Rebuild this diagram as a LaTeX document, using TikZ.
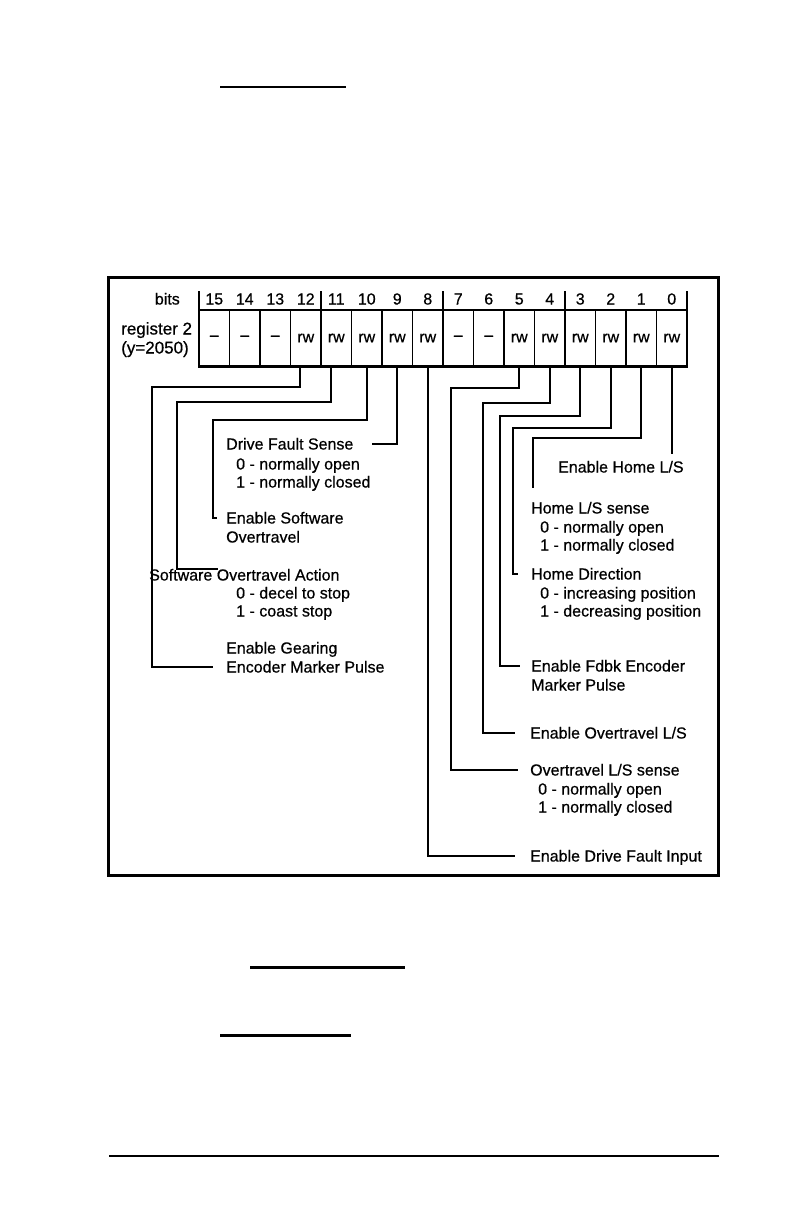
\documentclass[tikz,border=0pt]{standalone}
\usepackage{fontspec}
\setmainfont{Liberation Sans}
\newfontfamily\scanfont{Liberation Sans}[FakeBold=0.6]
\newcommand{\lblfont}{\scanfont\fontsize{16}{19}\selectfont}
\tikzset{
  lbl/.style={anchor=west, inner sep=0pt, text height=11pt, text depth=0pt, font=\lblfont},
  wire/.style={draw, line width=1.8pt},
  cellbox/.style={draw, line width=1.6pt, minimum width=30.5pt, minimum height=56pt, inner sep=0pt, font=\lblfont},
}
\begin{document}
\begin{tikzpicture}[x=1pt, y=-1pt]
\useasboundingbox (0,0) rectangle (793,1225);
% page rules
\draw[line width=2pt] (220,87) -- (346,87);
\draw[line width=3pt] (250,967) -- (405,967);
\draw[line width=3pt] (220,1035) -- (351,1035);
\draw[line width=1.5pt] (109,1156) -- (719,1156);
% frame
\draw[line width=3pt] (108,277) rectangle (718,875);
% register cells
\foreach \b/\v [count=\k from 0] in {15/\textendash, 14/\textendash, 13/\textendash, 12/rw, 11/rw, 10/rw, 9/rw, 8/rw, 7/\textendash, 6/\textendash, 5/rw, 4/rw, 3/rw, 2/rw, 1/rw, 0/rw} {
  \pgfmathsetmacro\cx{214.25+30.5*\k}
  \node[cellbox] (c\b) at (\cx,338) {\v};
  \node[lbl, anchor=center] (n\b) at (\cx,299) {\b};
}
\draw[line width=2.5pt] (c15.south west) -- (c0.south east);
\foreach \tx in {199,321,443,565,687}
  \draw[line width=1.6pt] (\tx,291) -- (\tx,310);
\node[lbl, anchor=east] (bitslbl) at (180,299) {bits};
\node[lbl, font=\scanfont\fontsize{17}{20}\selectfont] (reg) at (121,329) {register 2};
\node[lbl, font=\scanfont\fontsize{17}{20}\selectfont] (regy) at (121,348) {(y=2050)};
% left labels
\node[lbl] (dfs) at (226,444) {Drive Fault Sense};
\node[lbl] (dfs0) at (236,464) {0 - normally open};
\node[lbl] (dfs1) at (236,482) {1 - normally closed};
\node[lbl] (esw) at (226,518) {Enable Software};
\node[lbl] (esw2) at (226,537) {Overtravel};
\node[lbl] (soa) at (149,575) {Software Overtravel Action};
\node[lbl] (soa0) at (236,593) {0 - decel to stop};
\node[lbl] (soa1) at (236,611) {1 - coast stop};
\node[lbl] (egm) at (226,648) {Enable Gearing};
\node[lbl] (emp) at (226,667) {Encoder Marker Pulse};
% right labels
\node[lbl] (ehl) at (558,467) {Enable Home L/S};
\node[lbl] (hls) at (531,508) {Home L/S sense};
\node[lbl] (hls0) at (540,527) {0 - normally open};
\node[lbl] (hls1) at (540,545) {1 - normally closed};
\node[lbl] (hdir) at (531,574) {Home Direction};
\node[lbl] (hdir0) at (540,593) {0 - increasing position};
\node[lbl] (hdir1) at (540,611) {1 - decreasing position};
\node[lbl] (efe) at (531,666) {Enable Fdbk Encoder};
\node[lbl] (efe2) at (531,685) {Marker Pulse};
\node[lbl] (eol) at (530,733) {Enable Overtravel L/S};
\node[lbl] (ols) at (530,770) {Overtravel L/S sense};
\node[lbl] (ols0) at (538,789) {0 - normally open};
\node[lbl] (ols1) at (538,807) {1 - normally closed};
\node[lbl] (edf) at (530,856) {Enable Drive Fault Input};
% bit connectors
\draw[wire] ([xshift=-6pt]c12.south) |- (152,387) |- ([xshift=-13pt]emp.west);
\draw[wire] ([xshift=-5pt]c11.south) |- (177,402) |- ([xshift=69pt,yshift=6pt]soa.west);
\draw[wire] (c10.south) |- (213,420) |- ([xshift=-9pt]esw.west);
\draw[wire] (c9.south) |- ([xshift=18pt]dfs.east);
\draw[wire] (c8.south) |- ([xshift=-15pt]edf.west);
\draw[wire] (c5.south) |- (451,388) |- ([xshift=-12pt]ols.west);
\draw[wire] (c4.south) |- (483,403) |- ([xshift=-15pt]eol.west);
\draw[wire] (c3.south) |- (500,416) |- ([xshift=-11pt]efe.west);
\draw[wire] (c2.south) |- (513,428) |- ([xshift=-13pt]hdir.west);
\draw[wire] (c1.south) |- (533,438) -- ([xshift=2pt,yshift=20pt]hls.west);
\draw[wire] (c0.south) -- ([yshift=13pt]c0.south |- ehl.west);
\end{tikzpicture}
\end{document}
